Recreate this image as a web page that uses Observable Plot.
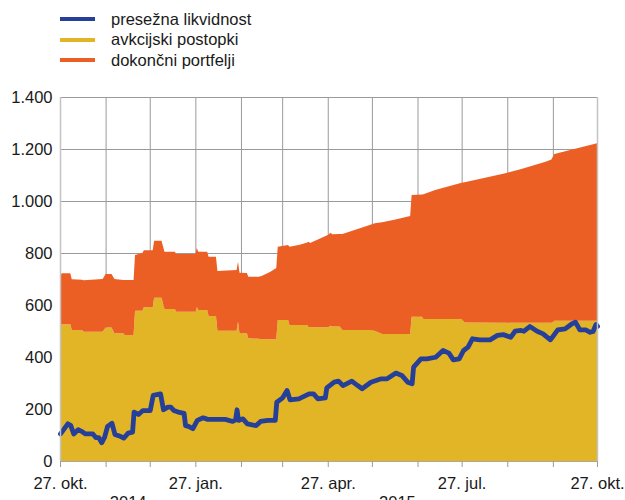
<!DOCTYPE html>
<html>
<head>
<meta charset="utf-8">
<script src="https://cdn.jsdelivr.net/npm/d3@7"></script>
<script src="https://cdn.jsdelivr.net/npm/@observablehq/plot@0.6"></script>
<style>
  html, body { margin: 0; padding: 0; background: white; }
  body { width: 625px; font-family: "Liberation Sans", Arial, sans-serif; color: #1a1a1a; }
  #legend { height: 75px; position: relative; }
  .item { position: absolute; left: 60px; height: 20px; display: flex; align-items: center; font-size: 16.5px; }
  .sw { width: 35px; height: 4px; margin-right: 16px; }
</style>
</head>
<body>
<div id="legend"></div>
<div id="chart"></div>
<script>
// ---- data ----
const seriesNames = ["presežna likvidnost", "avkcijski postopki", "dokončni portfelji"];
const seriesColors = ["#263f98", "#e2b526", "#eb5f25"];

// stacked areas: auction operations and outright portfolios (bn EUR)
const areaDates = ["2014-10-27","2014-10-28","2014-11-03","2014-11-04","2014-11-11","2014-11-12","2014-11-25","2014-11-27","2014-12-01","2014-12-03","2014-12-09","2014-12-10","2014-12-16","2014-12-17","2014-12-22","2014-12-23","2014-12-29","2014-12-30","2015-01-04","2015-01-06","2015-01-13","2015-01-14","2015-01-27","2015-01-28","2015-01-29","2015-02-04","2015-02-05","2015-02-10","2015-02-11","2015-02-24","2015-02-25","2015-02-26","2015-03-03","2015-03-04","2015-03-11","2015-03-13","2015-03-19","2015-03-23","2015-03-24","2015-03-31","2015-04-01","2015-04-08","2015-04-13","2015-04-14","2015-04-15","2015-04-27","2015-04-29","2015-04-30","2015-05-05","2015-05-07","2015-05-27","2015-05-29","2015-06-03","2015-06-12","2015-06-22","2015-06-23","2015-06-30","2015-07-01","2015-07-09","2015-07-27","2015-07-29","2015-08-25","2015-09-05","2015-09-22","2015-09-26","2015-09-28","2015-10-27"];
const auctionValues = [504,526,526,504,504,497,497,513,513,491,491,485,485,578,578,591,591,628,628,585,585,574,574,592,581,581,558,558,501,501,536,491,491,472,470,468,468,468,542,542,523,523,523,514,514,514,520,517,517,504,504,500,488,488,488,555,555,546,546,546,533,532,532,532,532,539,539];
const portfolioValues = [195,196,196,195,193,198,203,206,206,209,205,211,211,214,222,220,220,219,219,220,220,222,222,227,224,224,228,228,230,234,230,233,232,237,239,244,260,274,282,289,301,309,317,329,324,355,358,355,356,369,407,414,430,441,454,468,470,480,496,524,539,574,590,619,628,642,683];

// excess liquidity line
const liqDates = ["2014-10-27","2014-11-01","2014-11-03","2014-11-05","2014-11-08","2014-11-10","2014-11-13","2014-11-18","2014-11-20","2014-11-22","2014-11-24","2014-11-26","2014-11-28","2014-12-01","2014-12-03","2014-12-07","2014-12-09","2014-12-12","2014-12-15","2014-12-16","2014-12-19","2014-12-22","2014-12-27","2014-12-29","2015-01-03","2015-01-05","2015-01-08","2015-01-10","2015-01-12","2015-01-15","2015-01-19","2015-01-20","2015-01-22","2015-01-25","2015-01-28","2015-02-01","2015-02-04","2015-02-09","2015-02-16","2015-02-21","2015-02-23","2015-02-24","2015-02-25","2015-02-28","2015-03-03","2015-03-09","2015-03-12","2015-03-17","2015-03-22","2015-03-23","2015-03-27","2015-03-30","2015-04-01","2015-04-07","2015-04-14","2015-04-17","2015-04-20","2015-04-25","2015-04-26","2015-05-01","2015-05-04","2015-05-07","2015-05-13","2015-05-17","2015-05-20","2015-05-26","2015-06-02","2015-06-06","2015-06-12","2015-06-16","2015-06-20","2015-06-23","2015-06-24","2015-06-29","2015-07-03","2015-07-09","2015-07-14","2015-07-18","2015-07-21","2015-07-25","2015-07-28","2015-07-31","2015-08-03","2015-08-08","2015-08-15","2015-08-20","2015-08-24","2015-08-29","2015-09-01","2015-09-05","2015-09-07","2015-09-11","2015-09-16","2015-09-20","2015-09-25","2015-09-30","2015-10-05","2015-10-09","2015-10-12","2015-10-15","2015-10-19","2015-10-22","2015-10-24","2015-10-26","2015-10-27"];
const liqValues = [106,145,138,106,122,117,106,106,92,92,72,94,135,147,104,96,90,109,113,190,181,196,196,254,260,199,209,209,196,190,185,138,135,126,158,168,162,162,162,154,160,199,158,164,145,138,154,158,158,228,245,273,237,241,260,260,241,245,283,305,309,292,309,292,280,305,318,318,340,331,305,299,363,395,395,401,427,417,391,395,427,440,472,468,468,485,488,478,501,504,501,519,501,491,468,506,510,527,536,506,506,497,500,527,520];

// axes
const monthTicks = ["2014-10-27","2014-11-27","2014-12-27","2015-01-27","2015-02-27","2015-03-27","2015-04-27","2015-05-27","2015-06-27","2015-07-27","2015-08-27","2015-09-27","2015-10-27"];
const monthLabels = ["27. okt.","","","27. jan.","","","27. apr.","","","27. jul.","","","27. okt."];
const yearLabels = ["2014", "2015"];
const yearDates = ["2014-12-12", "2015-06-13"];
const yTicks = [0, 200, 400, 600, 800, 1000, 1200, 1400];

// ---- legend ----
const legend = document.getElementById("legend");
seriesNames.forEach((name, i) => {
  const it = document.createElement("div");
  it.className = "item";
  it.style.top = (9 + i * 20.5) + "px";
  it.innerHTML = `<span class="sw" style="background:${seriesColors[i]}"></span><span>${name}</span>`;
  legend.appendChild(it);
});

// ---- chart ----
const parse = d3.utcParse("%Y-%m-%d");
const areaRows = areaDates.map((d, i) => ({date: parse(d), auction: auctionValues[i], portfolio: portfolioValues[i]}));
const liqRows = liqDates.map((d, i) => ({date: parse(d), value: liqValues[i]}));
const tickDates = monthTicks.map(parse);
const labelMap = new Map(tickDates.map((d, i) => [+d, monthLabels[i]]));
const yearRows = yearDates.map((d, i) => ({date: parse(d), label: yearLabels[i]}));
const locale = d3.formatLocale({decimal: ",", thousands: ".", grouping: [3], currency: ["", "€"]});
const fmt = locale.format(",d");
const start = tickDates[0], end = tickDates[tickDates.length - 1];

const chart = Plot.plot({
  width: 625,
  height: 440,
  marginLeft: 60,
  marginRight: 28,
  marginTop: 22,
  marginBottom: 54,
  style: {fontFamily: '"Liberation Sans", Arial, sans-serif', fontSize: "16.5px", color: "#1a1a1a", background: "white", overflow: "visible"},
  x: {type: "utc", domain: [start, end]},
  y: {domain: [0, 1400]},
  marks: [
    Plot.ruleX(tickDates.slice(1, -1), {stroke: "#9a9a9a", strokeWidth: 1}),
    Plot.ruleY(yTicks.slice(1), {stroke: "#9a9a9a", strokeWidth: 1}),
    Plot.areaY(areaRows, {x: "date", y1: 0, y2: "auction", fill: seriesColors[1]}),
    Plot.areaY(areaRows, {x: "date", y1: "auction", y2: d => d.auction + d.portfolio, fill: seriesColors[2]}),
    Plot.line(liqRows, {x: "date", y: "value", stroke: seriesColors[0], strokeWidth: 4.8, strokeLinejoin: "round", strokeLinecap: "round"}),
    Plot.ruleX([start, end], {stroke: "#c4c4c4", strokeWidth: 1.5}),
    Plot.ruleY([0], {stroke: "#a8a8a8", strokeWidth: 1}),
    Plot.axisX({ticks: tickDates, tickFormat: d => labelMap.get(+d), tickSize: 6, tickPadding: 10, stroke: "#9a9a9a", label: null}),
    Plot.axisY({ticks: yTicks, tickFormat: fmt, tickSize: 0, tickPadding: 8, label: null}),
    Plot.text(yearRows, {x: "date", text: "label", frameAnchor: "bottom", lineAnchor: "bottom", dy: 46})
  ]
});
document.getElementById("chart").appendChild(chart);
</script>
</body>
</html>
